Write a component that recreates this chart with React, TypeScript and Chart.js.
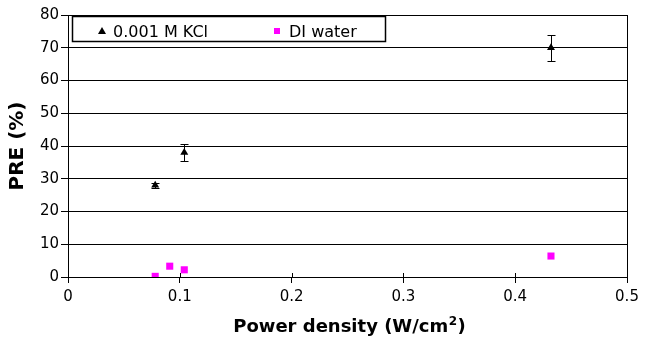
import React, { useEffect, useRef } from "react";
import { Chart, registerables } from "chart.js";

Chart.register(...registerables);

const kclX = [0.078, 0.104, 0.432];
const kclY = [28, 38, 70];
const kclErr = [0.8, 2.5, 4];

const diX = [0.078, 0.091, 0.104, 0.432];
const diY = [0.2, 3.3, 2.2, 6.4];

const seriesNames = ["0.001 M KCl", "DI water"];
const xTitleMain = "Power density (W/cm";
const xTitleSup = "2";
const xTitleEnd = ")";
const yTitle = "PRE (%)";

const FONT = "'DejaVu Sans', 'Liberation Sans', sans-serif";

const errorBarPlugin = {
  id: "errorBars",
  afterDatasetsDraw(chart: any) {
    const ctx = chart.ctx;
    const xs = chart.scales.x;
    const ys = chart.scales.y;
    ctx.save();
    ctx.strokeStyle = "#000";
    ctx.lineWidth = 1;
    kclX.forEach((xv, i) => {
      const px = Math.round(xs.getPixelForValue(xv)) + 0.5;
      const top = Math.round(ys.getPixelForValue(kclY[i] + kclErr[i])) + 0.5;
      const bot = Math.round(ys.getPixelForValue(kclY[i] - kclErr[i])) + 0.5;
      ctx.beginPath();
      ctx.moveTo(px, top);
      ctx.lineTo(px, bot);
      ctx.moveTo(px - 4, top);
      ctx.lineTo(px + 4, top);
      ctx.moveTo(px - 4, bot);
      ctx.lineTo(px + 4, bot);
      ctx.stroke();
    });
    ctx.restore();
  },
};

const framePlugin = {
  id: "frame",
  afterDraw(chart: any) {
    const { ctx, chartArea } = chart;
    const { left, top, right, bottom } = chartArea;
    const xs = chart.scales.x;
    ctx.save();
    ctx.strokeStyle = "#000";
    ctx.lineWidth = 1;
    ctx.strokeRect(Math.round(left) + 0.5, Math.round(top) + 0.5, Math.round(right - left), Math.round(bottom - top));
    // inner part of x ticks (ticks cross the axis)
    ctx.beginPath();
    xs.ticks.forEach((t: any) => {
      const px = Math.round(xs.getPixelForValue(t.value)) + 0.5;
      ctx.moveTo(px, bottom - 4);
      ctx.lineTo(px, bottom);
    });
    ctx.stroke();

    // legend box
    const bx = 72.5, by = 16.5, bw = 313, bh = 25;
    ctx.fillStyle = "#fff";
    ctx.fillRect(bx, by, bw, bh);
    ctx.strokeStyle = "#000";
    ctx.lineWidth = 1.5;
    ctx.strokeRect(bx, by, bw, bh);
    const cy = 31;
    ctx.fillStyle = "#000";
    ctx.beginPath();
    ctx.moveTo(102, cy - 4);
    ctx.lineTo(106, cy + 3);
    ctx.lineTo(98, cy + 3);
    ctx.closePath();
    ctx.fill();
    ctx.fillStyle = "#ff00ff";
    ctx.fillRect(274, cy - 3, 6, 6);
    ctx.fillStyle = "#000";
    ctx.font = "16px " + FONT;
    ctx.textBaseline = "alphabetic";
    ctx.textAlign = "left";
    ctx.fillText(seriesNames[0], 113, 37);
    ctx.fillText(seriesNames[1], 289, 37);

    // axis titles
    const bold = "bold 18px " + FONT;
    const supF = "bold 12px " + FONT;
    ctx.font = bold;
    const w1 = ctx.measureText(xTitleMain).width;
    const w3 = ctx.measureText(xTitleEnd).width;
    ctx.font = supF;
    const w2 = ctx.measureText(xTitleSup).width;
    const total = w1 + w2 + w3 + 1;
    const cx = (left + right) / 2 + 2;
    let x0 = cx - total / 2;
    const base = 332;
    ctx.font = bold;
    ctx.fillText(xTitleMain, x0, base);
    x0 += w1 + 0.5;
    ctx.font = supF;
    ctx.fillText(xTitleSup, x0, base - 7);
    x0 += w2 + 0.5;
    ctx.font = bold;
    ctx.fillText(xTitleEnd, x0, base);

    ctx.font = "bold 20px " + FONT;
    ctx.translate(23, 146);
    ctx.rotate(-Math.PI / 2);
    ctx.textAlign = "center";
    ctx.fillText(yTitle, 0, 0);
    ctx.restore();
  },
};

export default function App() {
  const ref = useRef<HTMLCanvasElement>(null);
  useEffect(() => {
    if (!ref.current) return;
    const chart = new Chart(ref.current, {
      type: "scatter",
      data: {
        datasets: [
          {
            label: seriesNames[0],
            data: kclX.map((x, i) => ({ x, y: kclY[i] })),
            pointStyle: "triangle",
            pointRadius: 4.6,
            backgroundColor: "#000",
            borderColor: "#000",
            borderWidth: 0,
          },
          {
            label: seriesNames[1],
            data: diX.map((x, i) => ({ x, y: diY[i] })),
            pointStyle: "rect",
            pointRadius: 5,
            backgroundColor: "#ff00ff",
            borderColor: "#ff00ff",
            borderWidth: 0,
          },
        ],
      },
      options: {
        animation: false,
        responsive: false,
        layout: { padding: { top: 15, right: 18, left: 0, bottom: 0 } },
        plugins: { legend: { display: false }, tooltip: { enabled: false } },
        scales: {
          x: {
            type: "linear",
            min: 0,
            max: 0.5,
            ticks: {
              stepSize: 0.1,
              color: "#000",
              font: { family: FONT, size: 15 },
              padding: 5,
              callback: (v: any) => String(Math.round(Number(v) * 10) / 10),
            },
            grid: { drawOnChartArea: false, drawTicks: true, tickLength: 6, color: "#000" },
            border: { display: true, color: "#000" },
            afterFit: (s: any) => {
              s.height = 65;
            },
          },
          y: {
            type: "linear",
            min: 0,
            max: 80,
            ticks: {
              stepSize: 10,
              color: "#000",
              font: { family: FONT, size: 15 },
              padding: 2,
            },
            grid: { color: "#000", lineWidth: 1, tickLength: 7, drawTicks: true },
            border: { display: true, color: "#000" },
            afterFit: (s: any) => {
              s.width = 68;
            },
          },
        },
      },
      plugins: [errorBarPlugin, framePlugin],
    });
    return () => chart.destroy();
  }, []);
  return (
    <div style={{ position: "fixed", left: 0, top: 0, width: 645, height: 342, background: "#fff" }}>
      <canvas ref={ref} width={645} height={342} style={{ width: 645, height: 342 }} />
    </div>
  );
}
